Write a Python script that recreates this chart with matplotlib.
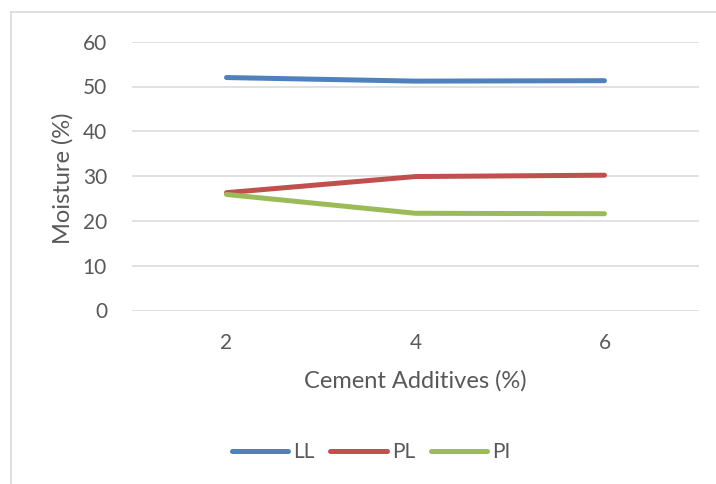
import matplotlib.pyplot as plt
from matplotlib.lines import Line2D

additives = [2, 4, 6]
ll = [52.0, 51.2, 51.3]
pl = [26.3, 29.9, 30.2]
pi = [25.9, 21.7, 21.6]
y_ticks = [0, 10, 20, 30, 40, 50, 60]

plt.rcParams['font.family'] = ['Lato', 'DejaVu Sans']
text_color = '#595959'

W, H = 716, 484
fig = plt.figure(figsize=(W / 100, H / 100), dpi=100)
ax = fig.add_axes([132 / W, 1 - 310.5 / H, 567 / W, 268.8 / H])

# 선 세 개 (LL, PL, PI)
ax.plot(additives, ll, color='#4f81bd', lw=3.6, solid_capstyle='round', label='LL')
ax.plot(additives, pl, color='#c0504d', lw=3.6, solid_capstyle='round', label='PL')
ax.plot(additives, pi, color='#9bbb59', lw=3.6, solid_capstyle='round', label='PI')

ax.set_xlim(1, 7)
ax.set_ylim(0, 60)
ax.set_xticks(additives)
ax.set_yticks(y_ticks)
ax.grid(axis='y', color='#d9d9d9', lw=1.1)
ax.set_axisbelow(True)
for s in ax.spines.values():
    s.set_visible(False)
ax.tick_params(length=0, labelsize=15, colors=text_color)
ax.tick_params(axis='y', pad=18)
ax.tick_params(axis='x', pad=16)

# 축 제목
fig.text(63 / W, 1 - 178 / H, 'Moisture (%)', rotation=90, ha='center', va='center',
         fontsize=17, color=text_color)
fig.text(415 / W, 1 - 381 / H, 'Cement Additives (%)', ha='center', va='center',
         fontsize=17, color=text_color)

leg = ax.legend(loc='center', bbox_to_anchor=(371 / W, 1 - 452 / H),
                bbox_transform=fig.transFigure, ncol=3, frameon=False,
                fontsize=15, handlelength=2.7, handletextpad=0.25, columnspacing=0.75)
for t in leg.get_texts():
    t.set_color(text_color)

# 차트 테두리 (왼쪽, 위쪽)
fig.add_artist(Line2D([11 / W, 11 / W], [0, 1 - 12 / H], transform=fig.transFigure,
                      color='#d9d9d9', lw=1.2))
fig.add_artist(Line2D([11 / W, 1], [1 - 12 / H, 1 - 12 / H], transform=fig.transFigure,
                      color='#d9d9d9', lw=1.2))

fig.savefig('out.png', dpi=100)
